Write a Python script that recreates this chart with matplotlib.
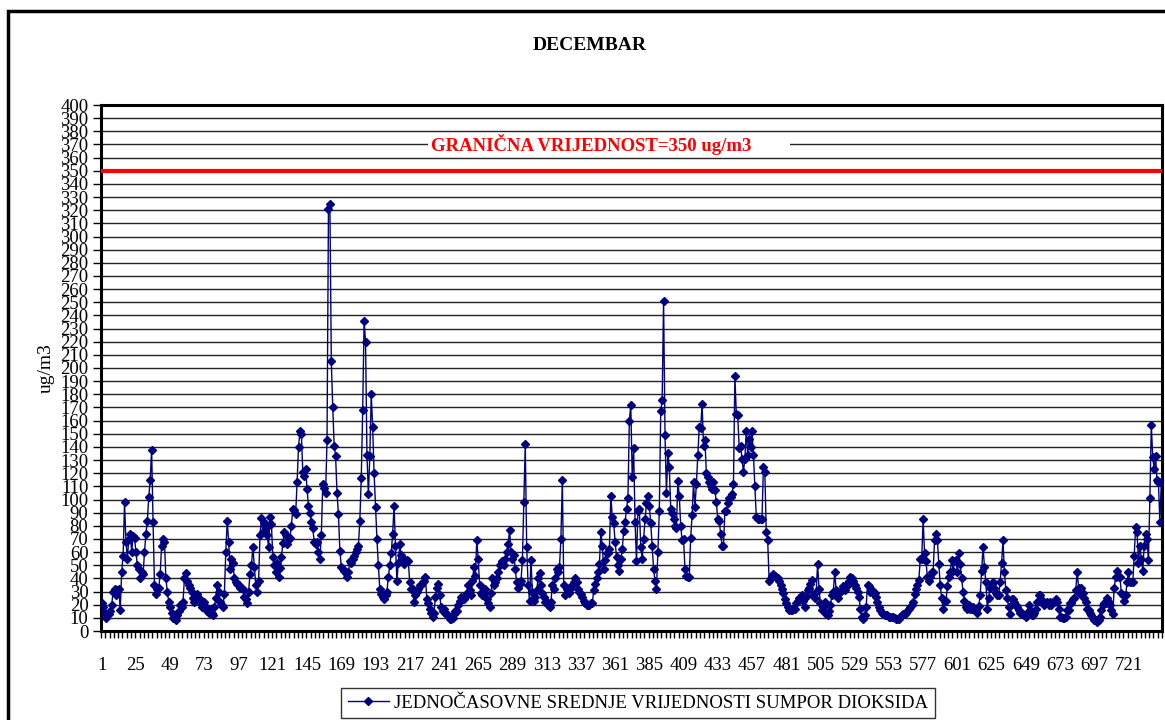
import numpy as np
import matplotlib
matplotlib.use("Agg")
import matplotlib.pyplot as plt
from matplotlib.patches import Rectangle

plt.rcParams['font.family'] = ['Liberation Serif', 'DejaVu Serif']

# hourly SO2 values, one row per day of December (24 h each)
dan01 = [21, 18, 14, 10, 12, 13, 15, 20, 30, 32, 27, 31, 32, 16, 45, 57, 98, 68, 55, 70, 74, 60, 72, 71]
dan02 = [60, 50, 47, 40, 45, 43, 60, 74, 84, 102, 115, 138, 83, 35, 28, 32, 33, 43, 65, 70, 68, 40, 30, 22]
dan03 = [18, 14, 10, 12, 8, 12, 15, 20, 18, 22, 40, 44, 38, 35, 33, 30, 25, 22, 26, 28, 25, 22, 18, 20]
dan04 = [22, 18, 15, 14, 17, 14, 12, 18, 25, 35, 30, 22, 20, 18, 28, 60, 84, 68, 47, 55, 52, 40, 37, 36]
dan05 = [35, 33, 33, 32, 26, 24, 21, 30, 43, 50, 64, 49, 35, 30, 38, 73, 86, 75, 83, 78, 73, 64, 87, 81]
dan06 = [56, 50, 45, 52, 41, 48, 56, 67, 75, 73, 66, 70, 71, 80, 93, 92, 89, 113, 140, 152, 150, 121, 118, 123]
dan07 = [108, 95, 90, 83, 78, 68, 66, 68, 60, 55, 73, 112, 109, 105, 145, 321, 325, 205, 170, 141, 133, 105, 89, 61]
dan08 = [49, 47, 46, 44, 41, 45, 53, 52, 55, 57, 60, 62, 65, 84, 116, 168, 236, 220, 134, 104, 133, 180, 155, 120]
dan09 = [94, 70, 50, 32, 28, 26, 24, 27, 30, 41, 50, 59, 74, 95, 65, 38, 52, 66, 58, 55, 51, 54, 54, 53]
dan10 = [37, 32, 32, 22, 27, 30, 32, 35, 35, 37, 38, 41, 24, 21, 17, 14, 11, 14, 26, 33, 36, 27, 18, 15]
dan11 = [17, 14, 12, 12, 9, 9, 10, 13, 15, 15, 20, 23, 26, 24, 24, 26, 29, 35, 31, 27, 38, 49, 42, 69]
dan12 = [55, 35, 29, 27, 29, 32, 24, 21, 18, 29, 40, 35, 37, 40, 45, 50, 51, 53, 50, 55, 60, 66, 77, 60]
dan13 = [55, 58, 47, 37, 33, 36, 38, 54, 98, 142, 64, 35, 23, 54, 30, 23, 26, 31, 40, 44, 35, 29, 26, 22]
dan14 = [22, 20, 18, 22, 35, 32, 40, 47, 45, 49, 70, 115, 35, 27, 32, 30, 29, 33, 35, 37, 40, 37, 32, 30]
dan15 = [28, 26, 23, 21, 20, 20, 20, 21, 21, 31, 36, 40, 45, 51, 75, 65, 47, 54, 59, 59, 62, 103, 87, 82]
dan16 = [68, 56, 50, 46, 55, 62, 76, 83, 93, 101, 160, 172, 117, 139, 83, 53, 91, 93, 64, 55, 70, 85, 97, 103]
dan17 = [95, 82, 65, 47, 38, 32, 60, 91, 167, 176, 251, 149, 105, 135, 125, 93, 90, 85, 80, 78, 114, 103, 80, 69]
dan18 = [70, 47, 42, 41, 41, 71, 88, 113, 94, 112, 134, 155, 154, 173, 141, 145, 120, 117, 113, 110, 108, 113, 107, 98]
dan19 = [85, 84, 74, 65, 65, 91, 91, 97, 101, 102, 104, 112, 194, 165, 164, 139, 141, 131, 121, 131, 152, 134, 146, 140]
dan20 = [152, 134, 110, 87, 85, 85, 85, 85, 125, 121, 75, 69, 38, 40, 42, 43, 42, 41, 40, 38, 35, 32, 29, 24]
dan21 = [21, 18, 16, 16, 16, 17, 17, 21, 23, 25, 25, 27, 23, 18, 26, 31, 33, 36, 39, 27, 25, 30, 51, 32]
dan22 = [21, 16, 18, 22, 13, 12, 15, 20, 27, 30, 45, 31, 25, 29, 30, 32, 34, 31, 35, 35, 38, 41, 40, 38]
dan23 = [35, 33, 30, 26, 17, 11, 9, 12, 18, 35, 34, 30, 31, 29, 29, 26, 22, 18, 16, 14, 13, 12, 12, 12]
dan24 = [11, 11, 11, 11, 10, 9, 9, 9, 11, 12, 13, 13, 14, 15, 17, 18, 20, 22, 28, 32, 35, 39, 55, 55]
dan25 = [85, 59, 53, 41, 38, 41, 45, 45, 69, 74, 69, 51, 35, 25, 17, 23, 23, 34, 41, 45, 54, 46, 53, 54]
dan26 = [45, 59, 51, 40, 30, 23, 18, 17, 20, 17, 17, 18, 17, 16, 14, 19, 27, 46, 64, 49, 37, 17, 25, 33]
dan27 = [36, 37, 33, 29, 27, 27, 37, 52, 69, 45, 31, 25, 18, 13, 24, 24, 22, 20, 18, 16, 14, 13, 13, 12]
dan28 = [11, 14, 20, 16, 12, 12, 14, 17, 22, 27, 27, 24, 22, 20, 21, 22, 20, 22, 20, 22, 22, 24, 22, 17]
dan29 = [11, 11, 10, 10, 11, 16, 16, 21, 21, 24, 25, 31, 45, 33, 28, 33, 29, 25, 22, 17, 16, 14, 12, 10]
dan30 = [8, 8, 7, 8, 11, 16, 20, 21, 21, 25, 22, 20, 16, 13, 33, 41, 46, 41, 41, 29, 27, 23, 27, 37]
dan31 = [45, 37, 37, 37, 57, 79, 75, 52, 65, 55, 46, 65, 74, 70, 54, 101, 157, 132, 123, 133, 115, 113, 83, 113]

dani = [dan01, dan02, dan03, dan04, dan05, dan06, dan07, dan08, dan09, dan10,
        dan11, dan12, dan13, dan14, dan15, dan16, dan17, dan18, dan19, dan20,
        dan21, dan22, dan23, dan24, dan25, dan26, dan27, dan28, dan29, dan30, dan31]
so2 = [v for d in dani for v in d]
sati = np.arange(1, len(so2) + 1)

granica = 350
naslov = "DECEMBAR"
granica_tekst = "GRANIČNA VRIJEDNOST=350 ug/m3"
legenda_tekst = "JEDNOČASOVNE SREDNJE VRIJEDNOSTI SUMPOR DIOKSIDA"

fig = plt.figure(figsize=(11.65, 7.2), dpi=100)
fig.patches.append(Rectangle((8/1165, -0.1), 1.2, 1 - 8/720 + 0.1 - 3/720,
                             transform=fig.transFigure, fill=False,
                             edgecolor='black', linewidth=2.5))

ax = fig.add_axes([101/1165, 89/720, 1061/1165, 526/720])
ax.set_xlim(0.5, len(so2) + 0.5)
ax.set_ylim(0, 400)

ax.set_yticks(np.arange(0, 401, 10))
ax.yaxis.grid(True, color='#222222', linewidth=1.0)
ax.set_axisbelow(True)
ax.tick_params(axis='y', labelsize=13.5, length=6, width=1, pad=3)

ax.set_xticks(np.arange(1, len(so2) + 1, 24))
ax.set_xticks(np.arange(0.5, len(so2) + 1, 3), minor=True)
ax.tick_params(axis='x', which='major', labelsize=13.5, length=0, pad=19)
ax.tick_params(axis='x', which='minor', length=5, width=1)

for s in ax.spines.values():
    s.set_linewidth(2.2)

ax.axhline(granica, color='#ff0000', linewidth=3, zorder=3)
ax.add_patch(Rectangle((229.5, 365.5), 254, 9, facecolor='white',
                       edgecolor='none', zorder=2.5))
ax.text(232, 370, granica_tekst, color='#ff0000', fontsize=13.5,
        fontweight='bold', va='center', ha='left', zorder=4)

ax.plot(sati, so2, color='#000080', linewidth=1.0, marker='D', markersize=4,
        label=legenda_tekst, zorder=5)

ax.set_ylabel("ug/m3", fontsize=14, labelpad=4)
fig.text(590/1165, 1 - 45/720, naslov, fontsize=14, fontweight='bold',
         ha='center', va='center')

leg = fig.legend(loc='center', bbox_to_anchor=(638/1165, 1 - 703/720),
                 fontsize=13.5, frameon=True, fancybox=False,
                 edgecolor='black', handlelength=2.2, borderpad=0.35,
                 handletextpad=0.3)
leg.get_frame().set_linewidth(1.0)

fig.savefig("out.png", dpi=100)
